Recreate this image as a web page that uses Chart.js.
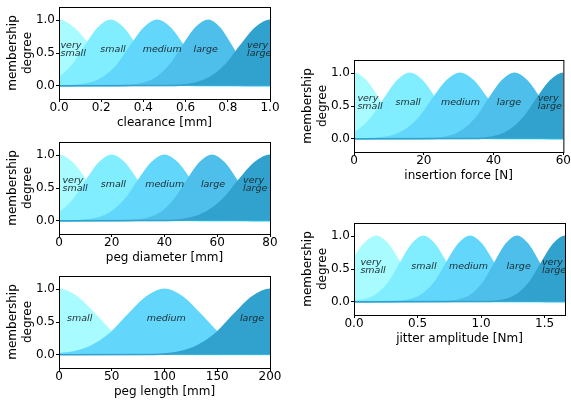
<!DOCTYPE html>
<html>
<head>
<meta charset="utf-8">
<script src="https://cdn.jsdelivr.net/npm/chart.js@4.4.1/dist/chart.umd.min.js"></script>
<style>
    html, body { margin: 0; padding: 0; background: #fff; overflow: hidden; width: 571px; height: 403px; }
    .panel { position: absolute; }
</style>
</head>
<body>
<div class="panel" style="left:0;top:0"><canvas id="clearanceChart" width="290" height="135"></canvas></div>
<div class="panel" style="left:0;top:135px"><canvas id="diameterChart" width="290" height="135"></canvas></div>
<div class="panel" style="left:0;top:269px"><canvas id="lengthChart" width="290" height="135"></canvas></div>
<div class="panel" style="left:295px;top:53px"><canvas id="forceChart" width="276" height="135"></canvas></div>
<div class="panel" style="left:295px;top:216px"><canvas id="jitterChart" width="276" height="135"></canvas></div>
<script>
// Fuzzy set names and colours
const fiveSets = [['very', 'small'], ['small'], ['medium'], ['large'], ['very', 'large']];
const threeSets = [['small'], ['medium'], ['large']];
const fiveColors = ['#a8fbff', '#80eeff', '#62d6fb', '#4dbfea', '#31a2cd'];
const threeColors = ['#a8fbff', '#62d6fb', '#31a2cd'];
const yTicks = [0, 0.5, 1.0];

// clearance [mm]
const clearanceTicks = [0, 0.2, 0.4, 0.6, 0.8, 1.0];
const clearanceLabelX = [0.067, 0.256, 0.489, 0.695, 0.949];
const clearanceX = [
    [-0.07, 0, 0.07, 0.145, 0.22, 0.29, 0.36, 0.46, 1.0],
    [-0.14, -0.055, 0.005, 0.065, 0.125, 0.185, 0.245, 0.305, 0.365, 0.425, 0.485, 0.545, 0.63, 1.0],
    [0, 0.065, 0.153, 0.215, 0.278, 0.34, 0.403, 0.465, 0.528, 0.59, 0.653, 0.715, 0.778, 0.865, 1.0],
    [0, 0.323, 0.407, 0.467, 0.527, 0.587, 0.647, 0.707, 0.762, 0.817, 0.872, 0.927, 0.982, 1.06],
    [0, 0.552, 0.65, 0.72, 0.79, 0.86, 0.93, 1.0, 1.07]
];
const clearanceY = [
    [0.88, 1, 0.88, 0.61, 0.32, 0.135, 0.044, 0.006, 0],
    [0.006, 0.044, 0.135, 0.32, 0.61, 0.88, 1, 0.88, 0.61, 0.32, 0.135, 0.044, 0.006, 0],
    [0, 0.006, 0.044, 0.135, 0.32, 0.61, 0.88, 1, 0.88, 0.61, 0.32, 0.135, 0.044, 0.006, 0],
    [0, 0.006, 0.044, 0.135, 0.32, 0.61, 0.88, 1, 0.88, 0.61, 0.32, 0.135, 0.044, 0.006],
    [0, 0.006, 0.044, 0.135, 0.32, 0.61, 0.88, 1, 0.88]
];

// peg diameter [mm]
const diameterTicks = [0, 20, 40, 60, 80];
const diameterLabelX = [6.1, 20.6, 40.1, 58.4, 74.4];
const diameterX = [
    [-5.15, 0, 5.15, 10.3, 15.45, 20.6, 25.75, 33, 80],
    [-11, -4.25, 0.6, 5.45, 10.3, 15.15, 20, 24.85, 29.7, 34.55, 39.4, 44.25, 51, 80],
    [0, 8, 15, 20, 25, 30, 35, 40, 45, 50, 55, 60, 65, 72, 80],
    [0, 27.6, 34.25, 39, 43.75, 48.5, 53.25, 58, 62.75, 67.5, 72.25, 77, 81.75, 88.4],
    [0, 41.6, 50, 56, 62, 68, 74, 80, 86]
];
const diameterY = [
    [0.88, 1, 0.88, 0.61, 0.32, 0.135, 0.044, 0.006, 0],
    [0.006, 0.044, 0.135, 0.32, 0.61, 0.88, 1, 0.88, 0.61, 0.32, 0.135, 0.044, 0.006, 0],
    [0, 0.006, 0.044, 0.135, 0.32, 0.61, 0.88, 1, 0.88, 0.61, 0.32, 0.135, 0.044, 0.006, 0],
    [0, 0.006, 0.044, 0.135, 0.32, 0.61, 0.88, 1, 0.88, 0.61, 0.32, 0.135, 0.044, 0.006],
    [0, 0.006, 0.044, 0.135, 0.32, 0.61, 0.88, 1, 0.88]
];

// peg length [mm]
const lengthTicks = [0, 50, 100, 150, 200];
const lengthLabelX = [19.6, 101.6, 183];
const lengthX = [
    [-17.25, 0, 17.25, 34.5, 51.75, 69, 86.25, 110.4, 200],
    [-10.4, 13.75, 31, 48.25, 65.5, 82.75, 100, 117.25, 134.5, 151.75, 169, 186.25, 210.4],
    [0, 89.6, 113.75, 131, 148.25, 165.5, 182.75, 200, 217.25]
];
const lengthY = [
    [0.88, 1, 0.88, 0.61, 0.32, 0.135, 0.044, 0.006, 0],
    [0.006, 0.044, 0.135, 0.32, 0.61, 0.88, 1, 0.88, 0.61, 0.32, 0.135, 0.044, 0.006],
    [0, 0.006, 0.044, 0.135, 0.32, 0.61, 0.88, 1, 0.88]
];

// insertion force [N]
const forceTicks = [0, 20, 40, 60];
const forceLabelX = [4.6, 15.5, 30.5, 44.4, 56.1];
const forceX = [
    [-3.5, 0, 3.5, 7, 10.5, 14, 17.5, 22.4, 60],
    [-7.4, -2.25, 1.4, 5.05, 8.7, 12.35, 16, 19.65, 23.3, 26.95, 30.6, 34.25, 39.4, 60],
    [0, 5.4, 10.9, 14.8, 18.7, 22.6, 26.5, 30.4, 34.3, 38.2, 42.1, 46, 49.9, 55.4, 60],
    [0, 22.6, 27.75, 31.4, 35.05, 38.7, 42.35, 46, 49.65, 53.3, 56.95, 60.6, 64.25, 69.4],
    [0, 35.7, 41, 44.8, 48.6, 52.4, 56.2, 60, 63.8]
];
const forceY = [
    [0.88, 1, 0.88, 0.61, 0.32, 0.135, 0.044, 0.006, 0],
    [0.006, 0.044, 0.135, 0.32, 0.61, 0.88, 1, 0.88, 0.61, 0.32, 0.135, 0.044, 0.006, 0],
    [0, 0.006, 0.044, 0.135, 0.32, 0.61, 0.88, 1, 0.88, 0.61, 0.32, 0.135, 0.044, 0.006, 0],
    [0, 0.006, 0.044, 0.135, 0.32, 0.61, 0.88, 1, 0.88, 0.61, 0.32, 0.135, 0.044, 0.006],
    [0, 0.006, 0.044, 0.135, 0.32, 0.61, 0.88, 1, 0.88]
];

// jitter amplitude [Nm]
const jitterTicks = [0, 0.5, 1.0, 1.5];
const jitterLabelX = [0.15, 0.55, 0.90, 1.295, 1.574];
const jitterX = [
    [-0.448, -0.312, -0.214, -0.117, -0.019, 0.079, 0.176, 0.266, 0.356, 0.446, 0.536, 0.626, 0.752, 1.66],
    [-0.015, 0.108, 0.195, 0.283, 0.37, 0.458, 0.545, 0.633, 0.72, 0.808, 0.895, 0.983, 1.105, 1.66],
    [0, 0.337, 0.463, 0.553, 0.643, 0.733, 0.823, 0.913, 1.003, 1.093, 1.183, 1.273, 1.363, 1.489, 1.66],
    [0, 0.738, 0.857, 0.942, 1.027, 1.112, 1.197, 1.282, 1.367, 1.452, 1.537, 1.622, 1.707, 1.826],
    [0, 1.084, 1.21, 1.30, 1.39, 1.48, 1.57, 1.66, 1.75]
];
const jitterY = [
    [0.006, 0.044, 0.135, 0.32, 0.61, 0.88, 1, 0.88, 0.61, 0.32, 0.135, 0.044, 0.006, 0],
    [0.006, 0.044, 0.135, 0.32, 0.61, 0.88, 1, 0.88, 0.61, 0.32, 0.135, 0.044, 0.006, 0],
    [0, 0.006, 0.044, 0.135, 0.32, 0.61, 0.88, 1, 0.88, 0.61, 0.32, 0.135, 0.044, 0.006, 0],
    [0, 0.006, 0.044, 0.135, 0.32, 0.61, 0.88, 1, 0.88, 0.61, 0.32, 0.135, 0.044, 0.006],
    [0, 0.006, 0.044, 0.135, 0.32, 0.61, 0.88, 1, 0.88]
];

const tickFont = { family: 'DejaVu Sans', size: 12, lineHeight: 1 };
const titleFont = { family: 'DejaVu Sans', size: 12, lineHeight: 1.25 };

// Set names written inside the plot
const setLabelPlugin = {
    id: 'setLabels',
    afterDatasetsDraw(chart, args, opts) {
        const ctx = chart.ctx;
        const xs = chart.scales.x, ys = chart.scales.y;
        ctx.save();
        ctx.font = 'italic 9.5px "DejaVu Sans"';
        ctx.fillStyle = '#1a2a30';
        ctx.textBaseline = 'middle';
        ctx.textAlign = 'left';
        opts.names.forEach((lines, i) => {
            const px = xs.getPixelForValue(opts.xs[i]);
            const py = ys.getPixelForValue(opts.y);
            const w = Math.max(...lines.map(l => ctx.measureText(l).width));
            lines.forEach((line, k) => {
                const dy = (k - (lines.length - 1) / 2) * 7.5;
                ctx.fillText(line, px - w / 2, py + dy);
            });
        });
        ctx.restore();
    }
};

// Box around the plot area, like matplotlib spines
const framePlugin = {
    id: 'frame',
    afterDraw(chart) {
        const a = chart.chartArea;
        const ctx = chart.ctx;
        ctx.save();
        ctx.strokeStyle = '#000';
        ctx.lineWidth = 1;
        ctx.strokeRect(a.left + 0.5, a.top + 0.5, a.right - a.left, a.bottom - a.top);
        ctx.restore();
    }
};

function buildPanel(id, xs, ys, colors, names, labelX, labelY, xTicks, xMax, decimals, xTitle) {
    const n = xs.length;
    const datasets = xs.map((row, i) => ({
        data: row.map((x, j) => ({ x: x, y: ys[i][j] })),
        backgroundColor: colors[i],
        borderColor: colors[i],
        borderWidth: 1.5,
        fill: 'origin',
        pointRadius: 0,
        cubicInterpolationMode: 'monotone',
        order: n - i,
        clip: 0
    }));

    return new Chart(document.getElementById(id), {
        type: 'line',
        data: { datasets: datasets },
        plugins: [setLabelPlugin, framePlugin],
        options: {
            responsive: false,
            animation: false,
            layout: { autoPadding: false, padding: { left: 0, top: 5, right: id === 'forceChart' || id === 'jitterChart' ? 6 : 20, bottom: 0 } },
            elements: { line: { capBezierPoints: false } },
            plugins: {
                legend: { display: false },
                tooltip: { enabled: false },
                setLabels: { names: names, xs: labelX, y: labelY }
            },
            scales: {
                x: {
                    type: 'linear',
                    min: 0,
                    max: xMax,
                    afterBuildTicks: s => { s.ticks = xTicks.map(v => ({ value: v })); },
                    afterFit: s => { s.height = 36; },
                    ticks: { font: tickFont, color: '#000', padding: 0, maxRotation: 0, autoSkip: false,
                        callback: v => v.toFixed(decimals) },
                    grid: { drawOnChartArea: false, drawTicks: true, tickLength: 3, color: '#000' },
                    border: { display: false },
                    title: { display: true, text: xTitle, font: titleFont, color: '#000', padding: { top: 0, bottom: 4.5 } }
                },
                y: {
                    min: -0.2,
                    max: 1.2,
                    afterBuildTicks: s => { s.ticks = yTicks.map(v => ({ value: v })); },
                    afterFit: s => { s.width = 59; },
                    ticks: { font: tickFont, color: '#000', padding: 1, callback: v => v.toFixed(1) },
                    grid: { drawOnChartArea: false, drawTicks: true, tickLength: 3, color: '#000' },
                    border: { display: false },
                    title: { display: true, text: ['membership', 'degree'], font: titleFont, color: '#000', padding: { top: 5.5, bottom: 0 } }
                }
            }
        }
    });
}

buildPanel('clearanceChart', clearanceX, clearanceY, fiveColors, fiveSets, clearanceLabelX, 0.55, clearanceTicks, 1.0, 1, 'clearance [mm]');
buildPanel('diameterChart', diameterX, diameterY, fiveColors, fiveSets, diameterLabelX, 0.55, diameterTicks, 80, 0, 'peg diameter [mm]');
buildPanel('lengthChart', lengthX, lengthY, threeColors, threeSets, lengthLabelX, 0.55, lengthTicks, 200, 0, 'peg length [mm]');
buildPanel('forceChart', forceX, forceY, fiveColors, fiveSets, forceLabelX, 0.55, forceTicks, 60, 0, 'insertion force [N]');
buildPanel('jitterChart', jitterX, jitterY, fiveColors, fiveSets, jitterLabelX, 0.54, jitterTicks, 1.66, 1, 'jitter amplitude [Nm]');
</script>
</body>
</html>
